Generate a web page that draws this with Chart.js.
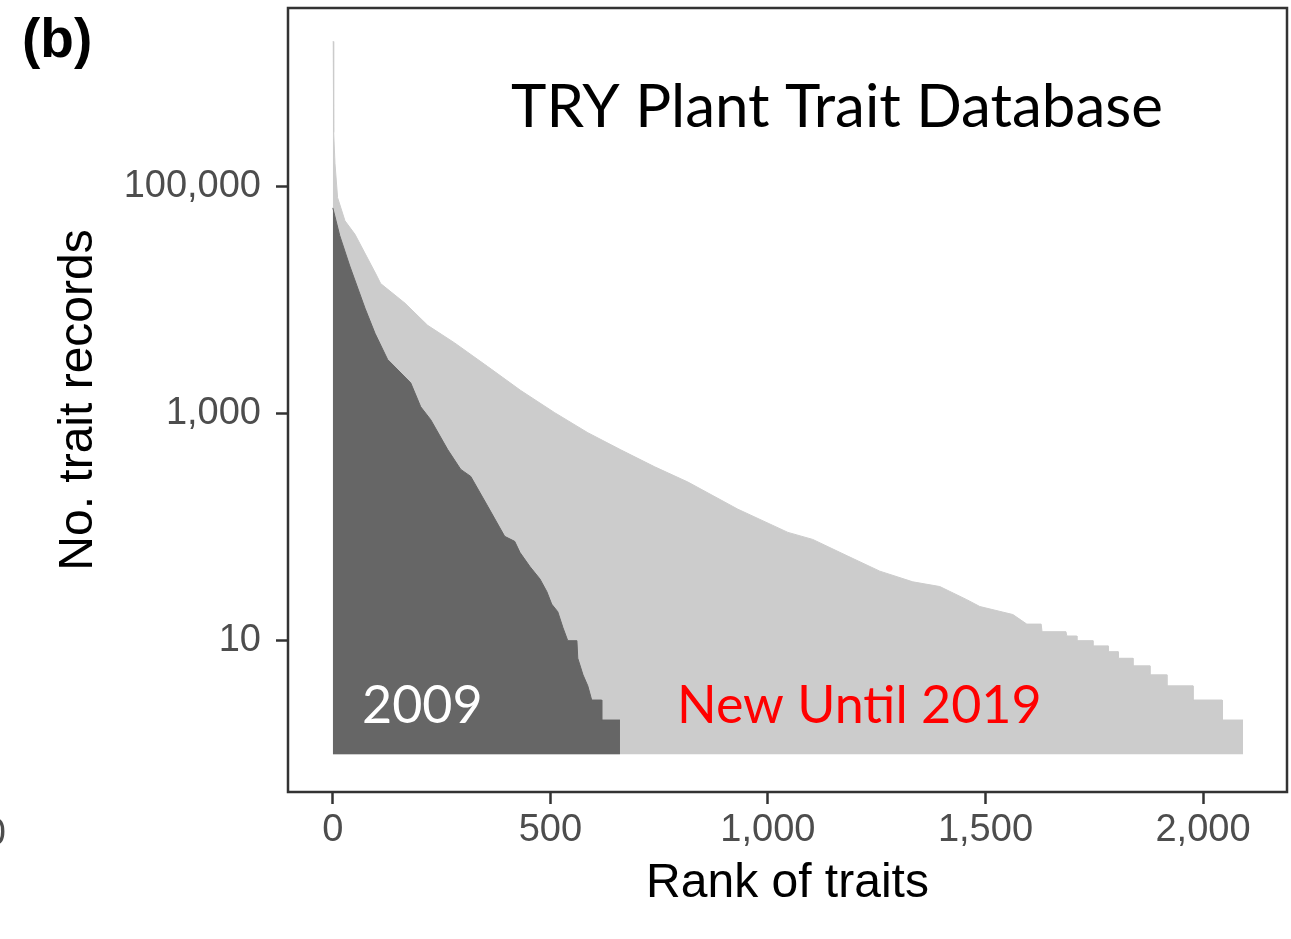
<!DOCTYPE html>
<html>
<head>
<meta charset="utf-8">
<script src="https://cdn.jsdelivr.net/npm/chart.js@4.4.1/dist/chart.umd.min.js"></script>
<style>
    body { margin: 0; background: #fff; }
    #wrap { width: 1291px; height: 939px; position: relative; }
</style>
</head>
<body>
<div id="wrap"><canvas id="chart"></canvas></div>
<script>
// Data: rank of trait vs. number of trait records
const ranks2019 = [0, 1, 2, 5, 11, 28, 51, 76, 99, 110, 166, 218, 280, 356, 432, 510, 586, 662, 740, 816,
    931, 1046, 1103, 1182, 1257, 1333, 1395, 1457, 1487, 1563, 1595, 1628, 1630, 1685, 1687, 1710, 1710,
    1747, 1747, 1782, 1782, 1805, 1805, 1839, 1839, 1878, 1878, 1917, 1917, 1977, 1977, 2044, 2044, 2092];
const records2019 = [1900000, 1900000, 300000, 160000, 80000, 50000, 38000, 25000, 17000, 14000, 9400, 6000,
    4200, 2600, 1600, 1020, 680, 480, 340, 250, 144, 90, 78, 56, 41, 33, 30, 23, 20, 17, 14, 14, 12, 12, 11,
    11, 10, 10, 9, 9, 8, 8, 7, 7, 6, 6, 5, 5, 4, 4, 3, 3, 2, 2];

const ranks2009 = [0, 16, 39, 74, 97, 126, 179, 202, 225, 264, 294, 317, 356, 395, 418, 430, 453, 476, 492,
    503, 517, 529, 540, 561, 563, 575, 586, 595, 618, 618, 660];
const records2009 = [65000, 37000, 20000, 8500, 5100, 3000, 1870, 1150, 885, 483, 323, 280, 153, 83, 75, 60,
    45, 35, 27, 21, 18, 13, 10, 10, 7, 5, 4, 3, 3, 2, 2];

const xTicks = [0, 500, 1000, 1500, 2000];
const yTicks = [10, 1000, 100000];

const TICK_FONT = { family: "'Liberation Sans', Arial, sans-serif", size: 38 };
const TITLE_FONT = { family: "'Liberation Sans', Arial, sans-serif", size: 48 };

function toPoints(xs, ys) {
    return xs.map((x, i) => ({ x: x, y: ys[i] }));
}

// Kehys + tekstit
const framePlugin = {
    id: "frame",
    afterDraw(chart) {
        const { ctx, chartArea: a } = chart;
        ctx.save();
        ctx.strokeStyle = "#333333";
        ctx.lineWidth = 2.5;
        ctx.strokeRect(a.left, a.top, a.right - a.left, a.bottom - a.top);

        ctx.textBaseline = "alphabetic";
        ctx.textAlign = "left";

        ctx.fillStyle = "#000";
        ctx.font = "60px Lato, 'Open Sans', sans-serif";
        ctx.fillText("TRY Plant Trait Database", 511, 127);

        ctx.fillStyle = "#ffffff";
        ctx.font = "52px Lato, 'Open Sans', sans-serif";
        ctx.fillText("2009", 362, 723);

        ctx.fillStyle = "#ff0000";
        ctx.fillText("New Until 2019", 677, 723);

        ctx.fillStyle = "#000";
        ctx.font = "bold 55px 'Liberation Sans', Arial, sans-serif";
        ctx.fillText("(b)", 22, 57);

        // leftover tick label from the neighbouring panel
        ctx.fillStyle = "#4d4d4d";
        ctx.font = "38px 'Liberation Sans', Arial, sans-serif";
        ctx.textAlign = "right";
        ctx.fillText("0", 6, 845);
        ctx.restore();
    }
};

new Chart(document.getElementById("chart"), {
    type: "line",
    data: {
        datasets: [
            {
                label: "2009",
                data: toPoints(ranks2009, records2009),
                backgroundColor: "#666666",
                borderColor: "#666666",
                borderWidth: 1,
                pointRadius: 0,
                fill: { value: 1 },
                tension: 0
            },
            {
                label: "New Until 2019",
                data: toPoints(ranks2019, records2019),
                backgroundColor: "#cccccc",
                borderColor: "#cccccc",
                borderWidth: 1,
                pointRadius: 0,
                fill: { value: 1 },
                tension: 0
            }
        ]
    },
    options: {
        responsive: true,
        maintainAspectRatio: false,
        animation: false,
        devicePixelRatio: 1,
        layout: { padding: { left: 0, right: 4, top: 8, bottom: 0 } },
        plugins: {
            legend: { display: false },
            tooltip: { enabled: false }
        },
        scales: {
            x: {
                type: "linear",
                min: -103,
                max: 2193,
                afterBuildTicks: s => { s.ticks = xTicks.map(v => ({ value: v })); },
                afterFit: s => { s.height = 147; s.paddingLeft = 0; s.paddingRight = 0; },
                border: { display: false },
                grid: { drawOnChartArea: false, drawTicks: true, tickLength: 12, tickColor: "#333333", tickWidth: 2.5 },
                ticks: {
                    color: "#4d4d4d",
                    font: TICK_FONT,
                    padding: 4,
                    maxRotation: 0,
                    callback: v => Number(v).toLocaleString("en-US")
                },
                title: {
                    display: true,
                    text: "Rank of traits",
                    color: "#000",
                    font: TITLE_FONT,
                    padding: { top: 0, bottom: 26 }
                }
            },
            y: {
                type: "logarithmic",
                min: 0.4645,
                max: 3750000,
                afterBuildTicks: s => { s.ticks = yTicks.map(v => ({ value: v })); },
                afterFit: s => { s.width = 288; s.paddingTop = 0; s.paddingBottom = 0; },
                border: { display: false },
                grid: { drawOnChartArea: false, drawTicks: true, tickLength: 12, tickColor: "#333333", tickWidth: 2.5 },
                ticks: {
                    color: "#4d4d4d",
                    font: TICK_FONT,
                    padding: 15,
                    callback: v => Number(v).toLocaleString("en-US")
                },
                title: {
                    display: true,
                    text: "No. trait records",
                    color: "#000",
                    font: TITLE_FONT,
                    padding: { top: 50, bottom: 0 }
                }
            }
        }
    },
    plugins: [framePlugin]
});
</script>
</body>
</html>
